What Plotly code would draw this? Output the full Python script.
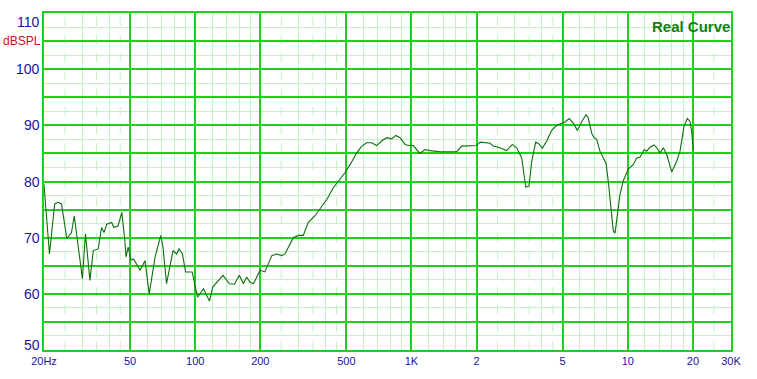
import math
import plotly.graph_objects as go

# ---- data ----
freq_hz = [20, 21.2, 22.4, 23.2, 24.1, 25.5, 26.8, 27.6, 30.1, 31.1, 32.6, 33.8, 35.6, 36.9,
           37.9, 39.0, 41.1, 42.1, 44.0, 45.8, 47.2, 47.9, 49.0, 50.5, 51.9, 55.6, 58.6,
           61.3, 65.2, 69.3, 71.0, 73.7, 79.0, 82.0, 84.2, 87.3, 90.3, 96.8, 102.6, 106.5,
           109.2, 116.5, 120.5, 134.4, 144, 152, 160, 167, 173, 179, 186, 199.5, 210, 226,
           238, 251, 260, 284, 300, 316, 333, 358, 378, 406, 435, 467, 493, 520, 558, 589,
           621, 655, 690, 728, 768, 811, 846, 885, 934, 967, 1019, 1094, 1154, 1218, 1355,
           1507, 1618, 1706, 1865, 2000, 2075, 2229, 2307, 2389, 2566, 2755, 2925, 3064,
           3233, 3374, 3492, 3597, 3753, 3885, 4025, 4218, 4448, 4691, 4947, 5126, 5360,
           5595, 5843, 6127, 6410, 6564, 6808, 6978, 7180, 7435, 7704, 7925, 8123, 8333,
           8570, 8730, 8934, 9204, 9528, 10047, 10597, 10990, 11380, 11917, 12222, 12670,
           13221, 13613, 14090, 14590, 15136, 15960, 16830, 17430, 18190, 18840, 19400,
           19740, 20090]
spl_db = [79.5, 67.1, 76.0, 76.3, 76.0, 69.8, 70.9, 73.9, 62.7, 70.7, 62.4, 67.7, 68.0, 71.8,
          70.9, 72.4, 72.7, 71.8, 72.1, 74.5, 69.8, 66.6, 68.3, 66.0, 66.2, 64.2, 65.9,
          60.0, 66.5, 70.4, 68.3, 61.8, 67.7, 67.1, 68.0, 67.1, 63.9, 63.9, 59.4, 60.3,
          60.9, 58.7, 61.2, 63.3, 61.8, 61.7, 63.3, 61.8, 63.0, 62.1, 61.8, 64.2, 63.9, 66.8,
          67.1, 66.8, 67.1, 70.0, 70.4, 70.4, 72.7, 73.9, 75.1, 76.8, 78.9, 80.4, 81.6, 83.0,
          85.1, 86.3, 86.9, 86.9, 86.4, 87.2, 87.8, 87.6, 88.2, 87.8, 86.6, 86.4, 86.4, 85.0,
          85.7, 85.5, 85.3, 85.3, 85.3, 86.3, 86.4, 86.4, 87.0, 86.9, 86.8, 86.3, 86.0, 85.5,
          86.6, 86.0, 84.2, 79.0, 79.2, 83.6, 87.0, 86.7, 85.9, 87.2, 89.1, 90.0, 90.3, 90.6,
          91.2, 90.4, 89.1, 90.7, 91.9, 91.3, 88.6, 87.8, 87.5, 85.4, 84.2, 83.3, 80.1, 75.4,
          71.2, 70.8, 73.6, 77.7, 80.1, 82.2, 83.0, 84.2, 84.3, 85.7, 85.4, 86.1, 86.5, 86.0,
          85.1, 86.0, 84.8, 81.7, 83.6, 85.4, 89.8, 91.2, 90.7, 88.9, 85.5]

x_tick_vals = [20, 50, 100, 200, 500, 1000, 2000, 5000, 10000, 20000, 30000]
x_tick_text = ["20Hz", "50", "100", "200", "500", "1K", "2", "5", "10", "20", "30K"]
x_minor_solid = [30, 40, 60, 70, 80, 90, 120, 140, 160, 180, 300, 400, 600, 700, 800, 900,
                 1200, 1400, 1600, 1800, 3000, 4000, 6000, 7000, 8000, 9000,
                 12000, 14000, 16000, 18000]
x_minor_dashed = [25, 35, 45, 250, 350, 450, 2500, 3500, 4500, 25000]
y_label_vals = [50, 60, 70, 80, 90, 100, 110]
y_label_shift = {110: -9, 50: 5}

MAJOR = "#1ed01e"
MINOR = "#c4f2c4"
LABEL_BLUE = "#1414a0"
CURVE = "#0c6e0c"

fig = go.Figure()
fig.add_trace(go.Scatter(x=freq_hz, y=spl_db, mode="lines",
                         line=dict(color=CURVE, width=1.1), hoverinfo="skip"))

for v in x_minor_dashed:
    fig.add_shape(type="line", xref="x", yref="paper", x0=v, x1=v, y0=0, y1=1,
                  line=dict(color=MINOR, width=1, dash="dash"), layer="below")

fig.update_xaxes(type="log", range=[math.log10(20), math.log10(30000)],
                 tickvals=x_tick_vals, ticktext=x_tick_text,
                 tickfont=dict(family="Liberation Sans, Arial", size=11, color=LABEL_BLUE),
                 showgrid=True, gridcolor=MAJOR, gridwidth=1.5,
                 minor=dict(tickvals=x_minor_solid, showgrid=True, gridcolor=MINOR, gridwidth=1, ticks=""),
                 showline=True, mirror=True, linecolor=MAJOR, linewidth=1.5,
                 zeroline=False, ticks="", fixedrange=True)
fig.update_yaxes(range=[50, 110], tick0=50, dtick=5, showticklabels=False,
                 showgrid=True, gridcolor=MAJOR, gridwidth=1.5,
                 minor=dict(tick0=52.5, dtick=5, showgrid=True, gridcolor=MINOR, gridwidth=1, ticks=""),
                 showline=True, mirror=True, linecolor=MAJOR, linewidth=1.5,
                 zeroline=False, ticks="", fixedrange=True)

for v in y_label_vals:
    fig.add_annotation(x=0, xref="paper", y=v, yref="y", text=str(v), showarrow=False,
                       xanchor="right", yanchor="middle", xshift=-2, yshift=y_label_shift.get(v, 0),
                       font=dict(family="Liberation Sans, Arial", size=14, color=LABEL_BLUE))
fig.add_annotation(x=0, xref="paper", y=105, yref="y", text="dBSPL", showarrow=False,
                   xanchor="right", yanchor="middle", xshift=-1,
                   font=dict(family="Liberation Sans, Arial", size=12, color="#cc1010"))
fig.add_annotation(x=1, xref="paper", y=1, yref="paper", text="<b>Real Curve</b>", showarrow=False,
                   xanchor="right", yanchor="top", xshift=1, yshift=-3,
                   font=dict(family="Liberation Sans, Arial", size=15, color="#118011"))

fig.update_layout(width=757, height=379, margin=dict(l=44, r=26, t=11, b=29),
                  paper_bgcolor="white", plot_bgcolor="white", showlegend=False)

fig.write_html("out.html")
